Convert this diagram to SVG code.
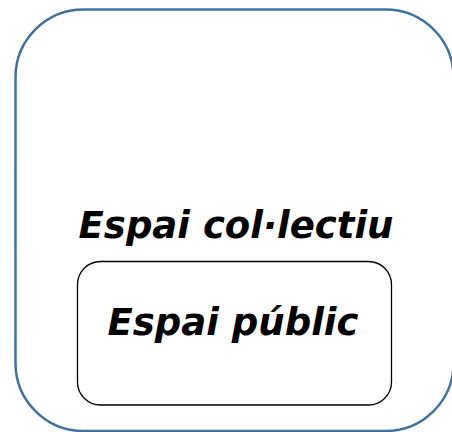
<svg xmlns="http://www.w3.org/2000/svg" width="452" height="432" viewBox="0 0 452 432">
<style>
.lbl{font-family:"DejaVu Sans",Verdana,sans-serif;font-weight:bold;font-style:italic;font-size:37px;fill:#000;text-anchor:middle}
</style>
<rect width="452" height="432" fill="#fff"/>
<g id="espai-collectiu">
<rect x="15.5" y="9.5" width="438" height="421.5" rx="68" ry="68" fill="#fff" stroke="#41719c" stroke-width="2.5"/>
<text class="lbl" x="236" y="238">Espai col·lectiu</text>
</g>
<g id="espai-public">
<rect x="77.5" y="261.5" width="314" height="143.5" rx="23" ry="23" fill="#fff" stroke="#000" stroke-width="1.3"/>
<text class="lbl" x="233" y="335">Espai públic</text>
</g>
<g id="connectors"/>
</svg>
